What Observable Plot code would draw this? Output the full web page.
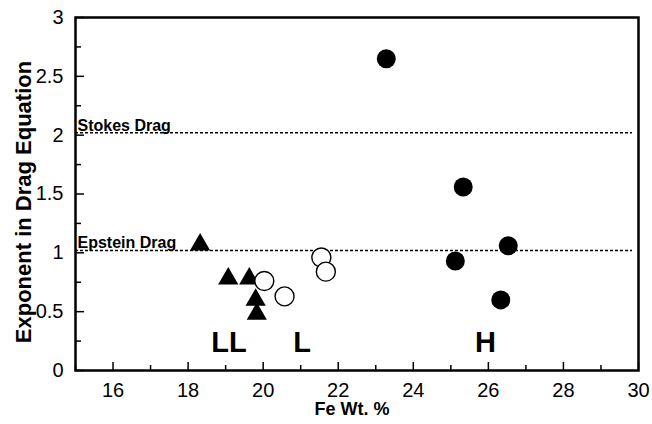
<!DOCTYPE html>
<html>
<head>
<meta charset="utf-8">
<script src="https://cdn.jsdelivr.net/npm/d3@7"></script>
<script src="https://cdn.jsdelivr.net/npm/@observablehq/plot@0.6"></script>
<style>
  html, body { margin: 0; padding: 0; background: #fff; }
  svg { display: block; }
</style>
</head>
<body>
<div id="chart"></div>
<script>
// ---- data ----
const hFe = [23.28, 25.33, 25.12, 26.53, 26.33];
const hExp = [2.65, 1.56, 0.93, 1.06, 0.60];
const lFe = [20.03, 20.57, 21.55, 21.67];
const lExp = [0.76, 0.63, 0.96, 0.84];
const llFe = [18.32, 19.07, 19.63, 19.80, 19.83];
const llExp = [1.07, 0.78, 0.78, 0.60, 0.48];
const groupNames = ["LL", "L", "H"];
const groupFe = [19.09, 21.04, 25.92];
const groupExp = [0.24, 0.24, 0.24];
const dragNames = ["Stokes Drag", "Epstein Drag"];
const dragExp = [2.02, 1.02];
const xMajor = [16, 18, 20, 22, 24, 26, 28, 30];
const xMinor = [15, 17, 19, 21, 23, 25, 27, 29];
const yMajor = [0, 0.5, 1, 1.5, 2, 2.5, 3];
const yMinor = [0.25, 0.75, 1.25, 1.75, 2.25, 2.75];

const zip = (xs, ys) => xs.map((x, i) => ({x, y: ys[i]}));
const H = zip(hFe, hExp), L = zip(lFe, lExp), LL = zip(llFe, llExp);
const groups = groupNames.map((name, i) => ({name, x: groupFe[i], y: groupExp[i]}));
const drags = dragNames.map((name, i) => ({name, y: dragExp[i]}));

const W = 652, Hh = 424, mL = 75, mR = 14, mT = 17, mB = 54;
const pw = W - mL - mR, ph = Hh - mT - mB;
const font = "'Liberation Sans', Arial, Helvetica, sans-serif";
const fmt = d => String(d);

const chart = Plot.plot({
  width: W, height: Hh,
  marginLeft: mL, marginRight: mR, marginTop: mT, marginBottom: mB,
  style: {fontFamily: font, fontSize: "20px", color: "#000", background: "#fff"},
  x: {domain: [15, 30]},
  y: {domain: [0, 3]},
  marks: [
    Plot.axisX(xMajor, {tickSize: 0, tickPadding: 12, fontSize: 20, tickFormat: fmt, label: null}),
    Plot.axisY(yMajor, {tickSize: 0, tickPadding: 12, fontSize: 20, tickFormat: fmt, label: null}),
    Plot.tickX(xMajor, {x: d => d, insetTop: ph - 8, strokeWidth: 1.5, stroke: "#000"}),
    Plot.tickX(xMinor, {x: d => d, insetTop: ph - 5, strokeWidth: 1.5, stroke: "#000"}),
    Plot.tickY(yMajor, {y: d => d, insetRight: pw - 9, strokeWidth: 1.5, stroke: "#000"}),
    Plot.tickY(yMinor, {y: d => d, insetRight: pw - 6, strokeWidth: 1.5, stroke: "#000"}),
    Plot.ruleY(drags, {y: "y", x1: 15, x2: 29.84, stroke: "#000", strokeWidth: 1.6, strokeDasharray: "3,2"}),
    Plot.text(drags, {x: 15, y: "y", text: "name", textAnchor: "start", lineAnchor: "bottom", dx: 2, dy: -2, fontSize: 16, fontWeight: "bold", letterSpacing: "0.8px", fill: "#000"}),
    Plot.dot(LL, {x: "x", y: "y", symbol: "triangle", r: 7.5, fill: "#000", stroke: "none"}),
    Plot.dot(L, {x: "x", y: "y", r: 9.5, fill: "#fff", stroke: "#000", strokeWidth: 1.4}),
    Plot.dot(H, {x: "x", y: "y", r: 9.5, fill: "#000", stroke: "none"}),
    Plot.text(groups, {x: "x", y: "y", text: "name", fontSize: 29, fontWeight: "bold", fill: "#000"}),
    Plot.text(["Fe Wt. %"], {frameAnchor: "bottom", textAnchor: "middle", lineAnchor: "middle", dx: -5, dy: 39, fontSize: 18, fontWeight: "bold", fill: "#000"}),
    Plot.text(["Exponent in Drag Equation"], {frameAnchor: "left", textAnchor: "middle", lineAnchor: "middle", rotate: -90, dx: -52, dy: 8, fontSize: 22, fontWeight: "bold", fill: "#000"}),
    Plot.frame({stroke: "#000", strokeWidth: 2.5})
  ]
});
document.getElementById("chart").appendChild(chart);
</script>
</body>
</html>
